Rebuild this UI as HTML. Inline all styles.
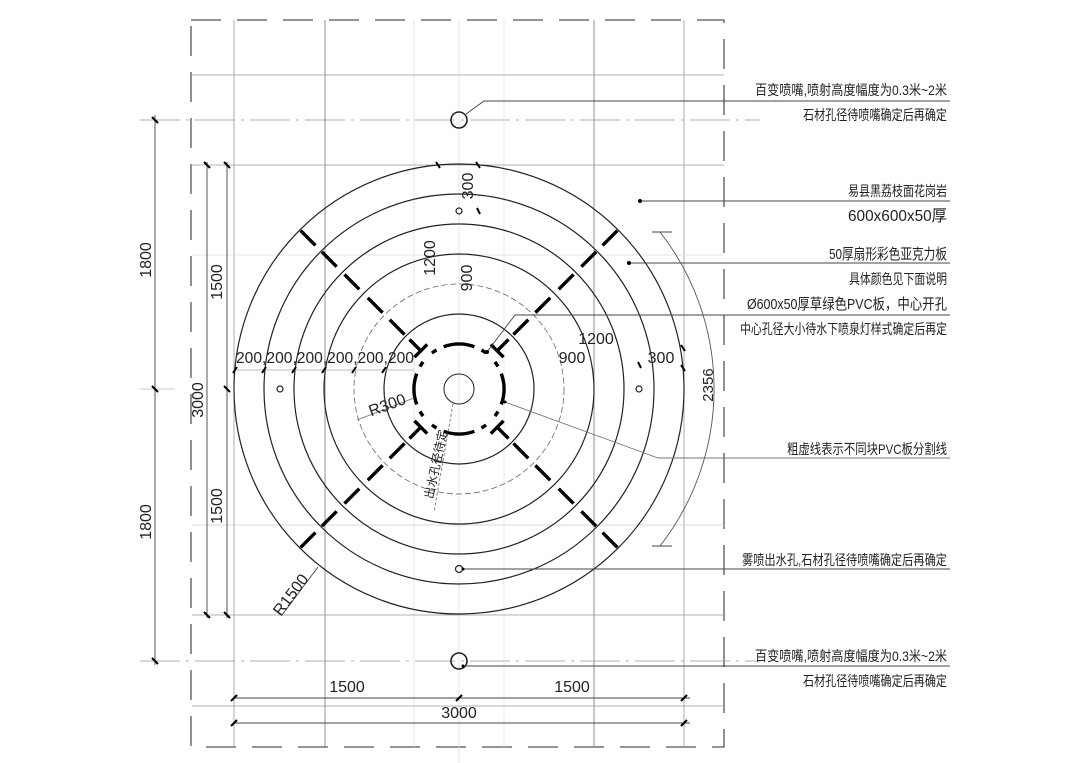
<!DOCTYPE html>
<html><head><meta charset="utf-8"><style>
html,body{margin:0;padding:0;background:#fff;}
svg{display:block;}
text{font-family:"Liberation Sans","Noto Sans CJK SC",sans-serif;fill:#222;}
</style></head><body>
<svg width="1080" height="763" viewBox="0 0 1080 763" xmlns="http://www.w3.org/2000/svg">
<!-- border dashed -->
<rect x="191" y="20" width="533" height="727" fill="none" stroke="#555" stroke-width="1.3" stroke-dasharray="30 16"/>
<!-- grid lines -->
<g stroke="#999" stroke-width="0.8" fill="none">
<line x1="234" y1="20" x2="234" y2="747"/>
<line x1="684" y1="20" x2="684" y2="747"/>
<line x1="325" y1="20" x2="325" y2="747" stroke="#777"/>
<line x1="594" y1="20" x2="594" y2="747" stroke="#777"/>
<line x1="414" y1="20" x2="414" y2="747" stroke="#ddd"/>
<line x1="459" y1="20" x2="459" y2="763" stroke="#ddd"/>
<line x1="504" y1="20" x2="504" y2="747" stroke="#e4e4e4"/>
<line x1="192" y1="75" x2="724" y2="75"/>
<line x1="192" y1="165" x2="724" y2="165"/>
<line x1="192" y1="615" x2="724" y2="615"/>
<line x1="192" y1="525" x2="724" y2="525" stroke="#ccc"/>
<line x1="192" y1="255" x2="724" y2="255" stroke="#ddd"/>
<line x1="192" y1="706" x2="724" y2="706"/>
<line x1="140" y1="120" x2="760" y2="120" stroke-dasharray="40 6 3 6"/>
<line x1="140" y1="661" x2="760" y2="661" stroke-dasharray="40 6 3 6"/>
</g>
<!-- circles -->
<g fill="none" stroke="#222" stroke-width="1.2">
<circle cx="459" cy="389" r="225"/>
<circle cx="459" cy="389" r="195"/>
<circle cx="459" cy="389" r="165"/>
<circle cx="459" cy="389" r="135"/>
<circle cx="459" cy="389" r="105" stroke="#666" stroke-width="0.8" stroke-dasharray="6 3"/>
<circle cx="459" cy="389" r="75"/>
<circle cx="459" cy="389" r="15" stroke-width="1"/>
<circle cx="459" cy="211" r="3"/>
<circle cx="459" cy="569" r="3.5"/>
<circle cx="280" cy="389" r="3"/>
<circle cx="639" cy="389" r="3"/>
<circle cx="459" cy="120" r="8" stroke-width="1.6"/>
<circle cx="459" cy="661" r="8" stroke-width="1.6"/>
</g>
<!-- diagonal thick dashes -->
<defs>
<g id="diag" stroke="#000" stroke-width="3.4" fill="none">
<line x1="224" y1="0" x2="203" y2="0"/>
<line x1="194" y1="0" x2="173" y2="0"/>
<line x1="162" y1="0" x2="141" y2="0"/>
<line x1="129" y1="0" x2="108" y2="0"/>
<line x1="98" y1="0" x2="77" y2="0"/>
<line x1="70" y1="0" x2="54" y2="0"/>
<line x1="54" y1="-9" x2="54" y2="9"/>
</g>
<g id="arcs" stroke="#000" stroke-width="3.4" fill="none">
<path d="M42.29,-15.39 A45,45 0 0 1 42.29,15.39"/>
<path d="M38.97,22.5 A45,45 0 0 1 35.94,27.08"/>
<path d="M38.97,-22.5 A45,45 0 0 0 35.94,-27.08"/>
</g>
</defs>
<g transform="translate(459,389)">
<use href="#diag" transform="rotate(45)"/>
<use href="#diag" transform="rotate(135)"/>
<use href="#diag" transform="rotate(225)"/>
<use href="#diag" transform="rotate(315)"/>
<use href="#arcs" transform="rotate(0)"/>
<use href="#arcs" transform="rotate(90)"/>
<use href="#arcs" transform="rotate(180)"/>
<use href="#arcs" transform="rotate(270)"/>
</g>
<!-- dimension lines left -->
<g stroke="#444" stroke-width="0.9" fill="none">
<line x1="155" y1="115" x2="155" y2="665"/>
<line x1="207" y1="162" x2="207" y2="618"/>
<line x1="227" y1="162" x2="227" y2="618"/>
<line x1="140" y1="389" x2="175" y2="389" stroke="#ccc"/>
<line x1="234" y1="698" x2="690" y2="698"/>
<line x1="234" y1="723" x2="690" y2="723"/>
<line x1="234" y1="370" x2="414" y2="370" stroke="#bbb"/>
</g>
<g stroke="#000" stroke-width="2">
<line x1="152" y1="117" x2="158" y2="123"/>
<line x1="152" y1="386" x2="158" y2="392"/>
<line x1="152" y1="658" x2="158" y2="664"/>
<line x1="204" y1="162" x2="210" y2="168"/>
<line x1="224" y1="162" x2="230" y2="168"/>
<line x1="204" y1="612" x2="210" y2="618"/>
<line x1="224" y1="612" x2="230" y2="618"/>
<line x1="224" y1="386" x2="230" y2="392"/>
<line x1="231" y1="701" x2="237" y2="695"/>
<line x1="456" y1="701" x2="462" y2="695"/>
<line x1="681" y1="701" x2="687" y2="695"/>
<line x1="231" y1="726" x2="237" y2="720"/>
<line x1="681" y1="726" x2="687" y2="720"/>
<line x1="436" y1="162" x2="440" y2="168"/>
<line x1="476" y1="162" x2="480" y2="168"/>
<line x1="233" y1="373" x2="237" y2="367"/>
<line x1="262" y1="373" x2="266" y2="367"/>
<line x1="292" y1="373" x2="296" y2="367"/>
<line x1="322" y1="373" x2="326" y2="367"/>
<line x1="352" y1="373" x2="356" y2="367"/>
<line x1="382" y1="373" x2="386" y2="367"/>
<line x1="681" y1="345" x2="685" y2="351"/>
<line x1="681" y1="365" x2="685" y2="371"/>
<line x1="638" y1="362" x2="641" y2="368"/>
<line x1="477" y1="208" x2="480" y2="214"/>
</g>
<!-- leaders -->
<g stroke="#444" stroke-width="0.9" fill="none">
<polyline points="466,114 484,101 950,101"/>
<line x1="640" y1="201" x2="950" y2="201"/>
<line x1="629" y1="263" x2="950" y2="263"/>
<polyline points="487,352 515,315 950,315"/>
<polyline points="505,402 658,458 950,458" stroke="#777"/>
<line x1="463" y1="569" x2="950" y2="569"/>
<line x1="463" y1="666" x2="950" y2="666"/>
<line x1="282" y1="615" x2="318" y2="567"/>
<line x1="357" y1="420" x2="414" y2="398" stroke="#777"/>
<line x1="453" y1="404" x2="434" y2="512" stroke="#777" stroke-dasharray="3 2"/>
<path d="M660,232 A255,255 0 0 1 660,546" stroke="#555"/>
<line x1="652" y1="232" x2="672" y2="232"/>
<line x1="652" y1="546" x2="672" y2="546"/>
</g>
<g fill="#000">
<circle cx="640" cy="201" r="2"/>
<circle cx="629" cy="263" r="2"/>
<circle cx="487" cy="352" r="2"/>
<circle cx="505" cy="402" r="1.5"/>
<circle cx="463" cy="569" r="1.5"/>
<circle cx="463" cy="666" r="1.5"/>
</g>
<!-- dimension texts -->
<g font-size="16" fill="#333">
<text transform="translate(151,260) rotate(-90)" text-anchor="middle">1800</text>
<text transform="translate(151,522) rotate(-90)" text-anchor="middle">1800</text>
<text transform="translate(203,400) rotate(-90)" text-anchor="middle">3000</text>
<text transform="translate(222,282) rotate(-90)" text-anchor="middle">1500</text>
<text transform="translate(222,506) rotate(-90)" text-anchor="middle">1500</text>
<text x="347" y="692" text-anchor="middle">1500</text>
<text x="572" y="692" text-anchor="middle">1500</text>
<text x="459" y="718" text-anchor="middle">3000</text>
<text x="236" y="363" textLength="178" lengthAdjust="spacingAndGlyphs">200,200,200,200,200,200</text>
<text transform="translate(473,186) rotate(-90)" text-anchor="middle">300</text>
<text transform="translate(435,258) rotate(-90)" text-anchor="middle">1200</text>
<text transform="translate(472,278) rotate(-90)" text-anchor="middle">900</text>
<text x="596" y="344" text-anchor="middle">1200</text>
<text x="572" y="363" text-anchor="middle">900</text>
<text x="661" y="363" text-anchor="middle">300</text>
<text transform="translate(389,410) rotate(-20)" text-anchor="middle">R300</text>
<text transform="translate(295,598) rotate(-53)" text-anchor="middle">R1500</text>
<text transform="translate(713,385) rotate(-90)" text-anchor="middle" font-size="15">2356</text>
<text transform="translate(440,465) rotate(-78)" text-anchor="middle" font-size="12" textLength="70" lengthAdjust="spacingAndGlyphs">出水孔径待定</text>
</g>
<!-- annotation texts -->
<g font-size="14" fill="#222" text-anchor="end">
<text x="947" y="95" textLength="192" lengthAdjust="spacingAndGlyphs">百变喷嘴,喷射高度幅度为0.3米~2米</text>
<text x="947" y="120" textLength="144" lengthAdjust="spacingAndGlyphs">石材孔径待喷嘴确定后再确定</text>
<text x="947" y="196" textLength="99" lengthAdjust="spacingAndGlyphs">易县黑荔枝面花岗岩</text>
<text x="947" y="221" font-size="16" textLength="99" lengthAdjust="spacingAndGlyphs">600x600x50厚</text>
<text x="947" y="259" font-size="15" textLength="118" lengthAdjust="spacingAndGlyphs">50厚扇形彩色亚克力板</text>
<text x="947" y="284" textLength="98" lengthAdjust="spacingAndGlyphs">具体颜色见下面说明</text>
<text x="947" y="309" font-size="15" textLength="200" lengthAdjust="spacingAndGlyphs">Ø600x50厚草绿色PVC板，中心开孔</text>
<text x="947" y="334" textLength="207" lengthAdjust="spacingAndGlyphs">中心孔径大小待水下喷泉灯样式确定后再定</text>
<text x="947" y="454" textLength="160" lengthAdjust="spacingAndGlyphs">粗虚线表示不同块PVC板分割线</text>
<text x="947" y="565" textLength="205" lengthAdjust="spacingAndGlyphs">雾喷出水孔,石材孔径待喷嘴确定后再确定</text>
<text x="947" y="661" textLength="192" lengthAdjust="spacingAndGlyphs">百变喷嘴,喷射高度幅度为0.3米~2米</text>
<text x="947" y="686" textLength="144" lengthAdjust="spacingAndGlyphs">石材孔径待喷嘴确定后再确定</text>
</g>
</svg>
</body></html>
